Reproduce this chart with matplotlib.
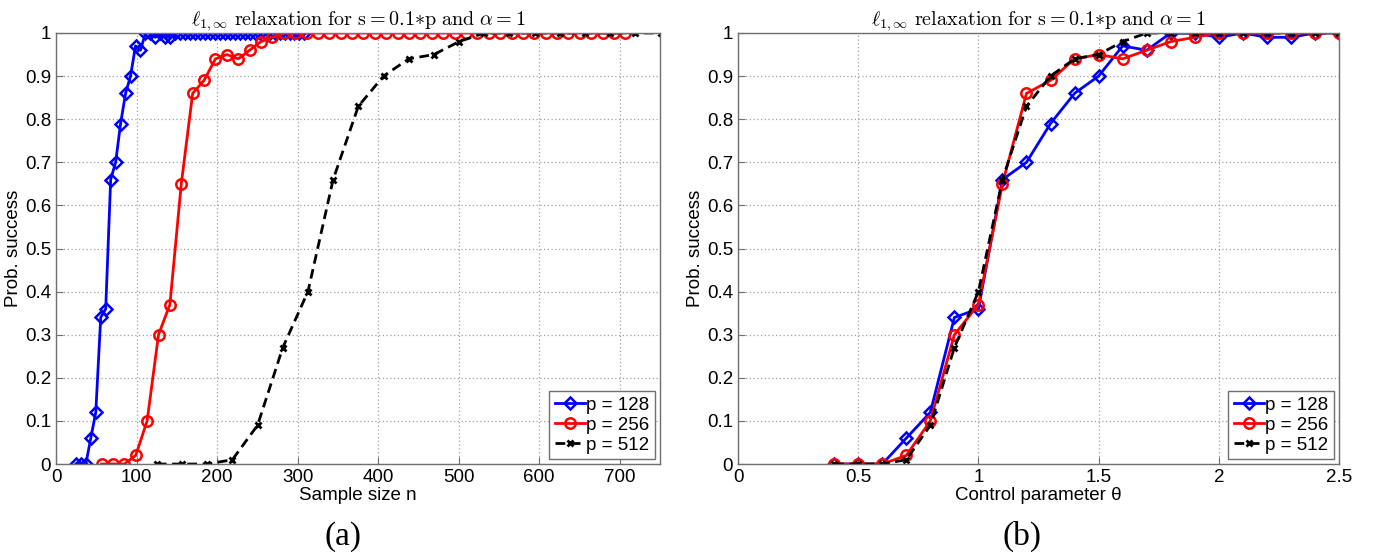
import numpy as np
import matplotlib
matplotlib.use("Agg")
import matplotlib.pyplot as plt
from matplotlib.ticker import FuncFormatter

plt.rcParams['mathtext.fontset'] = 'cm'
plt.rcParams['font.family'] = ['Liberation Sans', 'DejaVu Sans']

# ---- data ----
p_values = [128, 256, 512]
s_values = [13, 26, 51]          # s = 0.1*p (rounded)
labels = ["p = 128", "p = 256", "p = 512"]

theta_128 = [round(0.4 + 0.1 * i, 1) for i in range(47)]   # 0.4 .. 5.0
theta_256 = [round(0.4 + 0.1 * i, 1) for i in range(47)]   # 0.4 .. 5.0
theta_512 = [round(0.4 + 0.1 * i, 1) for i in range(22)]   # 0.4 .. 2.5

succ_128 = [0, 0, 0, 0.06, 0.12, 0.34, 0.36, 0.66, 0.70, 0.79, 0.86, 0.90, 0.97, 0.96,
            1.0, 1.0, 0.99, 1.0, 0.99, 0.99, 1.0, 1.0] + [1.0] * 25
succ_256 = [0, 0, 0, 0.02, 0.10, 0.30, 0.37, 0.65, 0.86, 0.89, 0.94, 0.95, 0.94, 0.96,
            0.98, 0.99, 1.0, 1.0, 1.0, 1.0, 1.0, 1.0] + [1.0] * 25
succ_512 = [0, 0, 0, 0.01, 0.09, 0.27, 0.40, 0.66, 0.83, 0.90, 0.94, 0.95, 0.98, 1.0,
            1.0, 1.0, 1.0, 1.0, 1.0, 1.0, 1.0, 1.0]

thetas = [theta_128, theta_256, theta_512]
succs = [succ_128, succ_256, succ_512]

# sample size n = theta * s * log(p - s)
ns = [np.array(t) * s * np.log(p - s) for t, s, p in zip(thetas, s_values, p_values)]

styles = [
    dict(color=(0, 0, 1), linestyle='-', marker='D', markersize=6.5, markerfacecolor='none',
         markeredgewidth=1.8, linewidth=2.0),
    dict(color=(1, 0, 0), linestyle='-', marker='o', markersize=7.5, markerfacecolor='none',
         markeredgewidth=1.8, linewidth=2.0),
    dict(color='black', linestyle='--', marker='x', markersize=5, markeredgewidth=2.0,
         linewidth=2.0, dashes=(3.5, 2)),
]

fig = plt.figure(figsize=(13.8, 5.59), dpi=100)
ax1 = fig.add_axes([0.0406, 0.1699, 0.4377, 0.7711])
ax2 = fig.add_axes([0.5348, 0.1699, 0.4355, 0.7711])

title = r"$\ell_{1,\infty}\ \mathrm{relaxation\ for\ s} = 0.1{*}\mathrm{p\ and}\ \alpha = 1$"

def yfmt(v, pos):
    if abs(v) < 1e-9:
        return "0"
    if abs(v - 1) < 1e-9:
        return "1"
    return f"{v:.1f}"

def xfmt(v, pos):
    if abs(v - round(v)) < 1e-9:
        return str(int(round(v)))
    return f"{v:.1f}"

for ax in (ax1, ax2):
    for sp in ax.spines.values():
        sp.set_color('#707070')
        sp.set_linewidth(1.0)
    ax.grid(True, linestyle=(0, (1, 2)), color='#a0a0a0', linewidth=0.9)
    ax.set_axisbelow(True)
    ax.tick_params(direction='in', labelsize=13.5, colors='#707070', labelcolor='black',
                   length=5, top=False, right=False)
    ax.set_ylim(0, 1)
    ax.set_yticks(np.arange(0, 1.01, 0.1))
    ax.yaxis.set_major_formatter(FuncFormatter(yfmt))
    ax.set_ylabel("Prob. success", fontsize=13.5, labelpad=2)
    ax.set_title(title, fontsize=14.5, pad=6)

for n, y, st, lab in zip(ns, succs, styles, labels):
    ax1.plot(n, y, label=lab, clip_on=True, **st)
ax1.set_xlim(0, 750)
ax1.set_xticks(range(0, 701, 100))
ax1.set_xlabel("Sample size n", fontsize=13.5, labelpad=1)

for t, y, st, lab in zip(thetas, succs, styles, labels):
    ax2.plot(t, y, label=lab, clip_on=True, **st)
ax2.set_xlim(0, 2.5)
ax2.set_xticks([0, 0.5, 1, 1.5, 2, 2.5])
ax2.xaxis.set_major_formatter(FuncFormatter(xfmt))
ax2.set_xlabel("Control parameter θ", fontsize=13.5, labelpad=1)

for ax in (ax1, ax2):
    leg = ax.legend(loc='lower right', fontsize=13.5, handlelength=1.6, handletextpad=0.1,
                    borderpad=0.3, labelspacing=0.15, borderaxespad=0.25, fancybox=False,
                    framealpha=1)
    leg.get_frame().set_edgecolor('#707070')
    leg.get_frame().set_linewidth(1.0)

fig.text(0.2487, 0.04, "(a)", fontsize=24, family='Liberation Serif', ha='center', va='center')
fig.text(0.7405, 0.04, "(b)", fontsize=24, family='Liberation Serif', ha='center', va='center')

fig.savefig("out.png", dpi=100)
